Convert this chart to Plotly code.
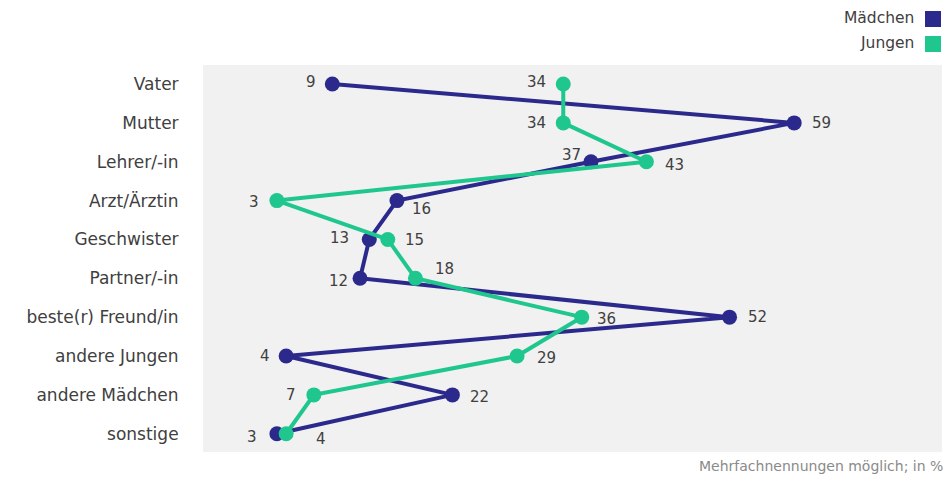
import plotly.graph_objects as go

categories = ["Vater", "Mutter", "Lehrer/-in", "Arzt/Ärztin", "Geschwister",
              "Partner/-in", "beste(r) Freund/in", "andere Jungen", "andere Mädchen", "sonstige"]
maedchen = [9, 59, 37, 16, 13, 12, 52, 4, 22, 3]
jungen = [34, 34, 43, 3, 15, 18, 36, 29, 7, 4]
series_names = ["Mädchen", "Jungen"]
footnote = "Mehrfachnennungen möglich; in %"

BLUE = "#2b2a8c"
GREEN = "#1fc78f"
TXT = "#404040"
FONT = "DejaVu Sans"

# label placement (anchor side, x shift px, y shift px) per point
lab_m = [("right", -14, 2), ("left", 16, 0), ("right", -8, 7), ("left", 13, -8), ("right", -18, 1),
         ("right", -10, -3), ("left", 16, 0), ("right", -14, 0), ("left", 16, -2), ("right", -18, -3)]
lab_j = [("right", -15, 2), ("right", -15, 0), ("left", 17, -3), ("right", -16, -1), ("left", 15, -1),
         ("left", 18, 9), ("left", 13, -2), ("left", 18, -2), ("right", -16, 0), ("left", 28, -5)]

fig = go.Figure()
for vals, name, col in [(maedchen, series_names[0], BLUE), (jungen, series_names[1], GREEN)]:
    fig.add_trace(go.Scatter(
        x=vals, y=categories, mode="lines+markers", name=name,
        line=dict(color=col, width=4), marker=dict(color=col, size=15),
        cliponaxis=False, showlegend=False, hoverinfo="x+y+name"))

for vals, labs in [(maedchen, lab_m), (jungen, lab_j)]:
    for cat, v, (side, dx, dy) in zip(categories, vals, labs):
        fig.add_annotation(x=v, y=cat, text=str(v), showarrow=False,
                           xanchor=side, yanchor="middle", xshift=dx, yshift=dy,
                           font=dict(family=FONT, size=15, color=TXT))

# custom legend (text left of colour square, right aligned)
PW = 944 - 203 - 2
PH = 387
for i, (name, col) in enumerate(zip(series_names, [BLUE, GREEN])):
    yc = 19 + i * 25
    fig.add_shape(type="rect", xref="paper", yref="paper",
                  x0=(925 - 203) / PW, x1=(941 - 203) / PW,
                  y0=1 + (65 - (yc + 8)) / PH, y1=1 + (65 - (yc - 8)) / PH,
                  fillcolor=col, line=dict(width=0))
    fig.add_annotation(xref="paper", yref="paper",
                       x=(916 - 203) / PW, y=1 + (65 - yc + 1) / PH,
                       xanchor="right", yanchor="middle", text=name, showarrow=False,
                       font=dict(family=FONT, size=15.5, color=TXT))

fig.add_annotation(xref="paper", yref="paper", x=1 + 3 / PW, y=-(466 - 452) / PH,
                   xanchor="right", yanchor="middle", text=footnote, showarrow=False,
                   font=dict(family=FONT, size=14, color="#8a8a8a"))

fig.update_layout(
    width=944, height=478,
    margin=dict(l=203, r=2, t=65, b=26),
    paper_bgcolor="white", plot_bgcolor="#f1f1f1",
    font=dict(family=FONT, size=14, color=TXT),
    xaxis=dict(range=[-5, 75], showgrid=False, zeroline=False, showticklabels=False,
               fixedrange=True),
    yaxis=dict(type="category", categoryorder="array", categoryarray=categories,
               range=[9.47, -0.49], showgrid=False, zeroline=False,
               ticks="outside", ticklen=20, tickcolor="rgba(0,0,0,0)",
               tickfont=dict(family=FONT, size=17, color=TXT), fixedrange=True),
    showlegend=False,
)

fig.write_html("out.html")
